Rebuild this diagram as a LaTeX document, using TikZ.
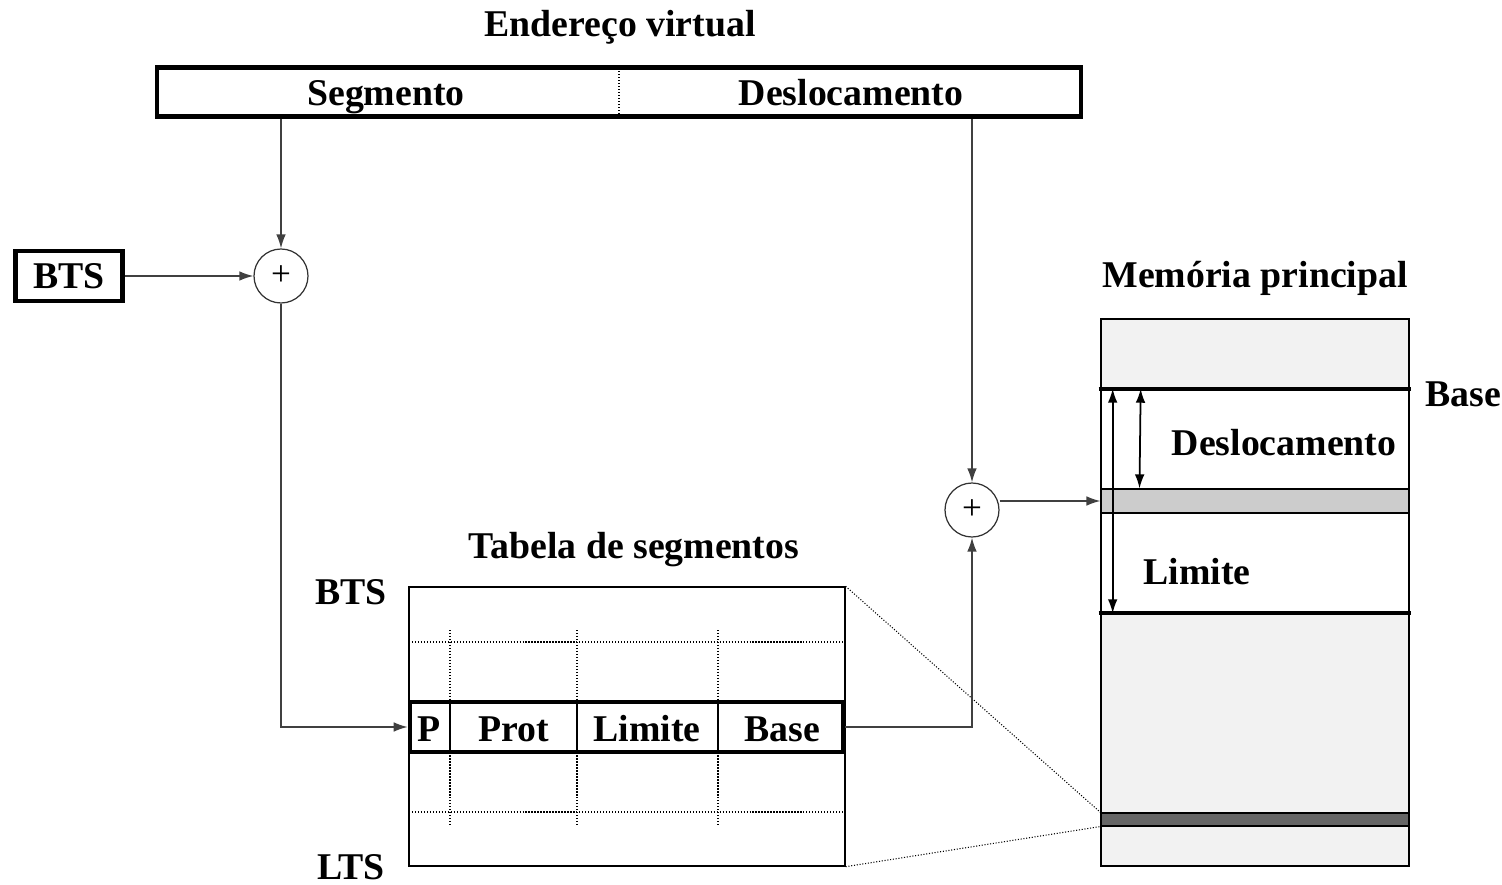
\documentclass[tikz,border=0pt]{standalone}
\usepackage{fontspec}
\setmainfont{Liberation Serif}
\usetikzlibrary{positioning,arrows.meta}
\begin{document}
\begin{tikzpicture}[x=0.02cm,y=-0.02cm,>={Latex[length=8pt,width=5.5pt]},
    lbl/.style={font=\bfseries\fontsize{21.5}{25}\selectfont, inner sep=0pt},
    thickbox/.style={draw, line width=2.6pt},
    adder/.style={draw=black!80, circle, line width=0.7pt, minimum size=1.08cm, inner sep=0pt, font=\fontsize{20}{20}\selectfont},
    link/.style={->, draw=black!75, line width=0.9pt},
    griddot/.style={densely dotted, line width=0.7pt}]
            \useasboundingbox (0,0) rectangle (1502,885);

            % virtual address
            \node[lbl, anchor=base] (vtitle) at (620,37) {Endereço virtual};
            \node[thickbox, minimum width=18.48cm, minimum height=0.98cm] (va) at (619,92) {};
            \draw[griddot] (va.north) -- (va.south);
            \node[lbl, anchor=base] (seg) at (386,106) {Segmento};
            \node[lbl, anchor=base] (off) at (851,106) {Deslocamento};

            % adders
            \node[thickbox, lbl, minimum width=2.14cm, minimum height=1cm] (bts) at (69,276) {BTS};
            \node[adder] (plus1) at (281,276) {+};
            \node[adder] (plus2) at (972,510) {+};

            % segment table
            \node[lbl, anchor=base] (ttitle) at (634,558) {Tabela de segmentos};
            \node[draw, line width=0.8pt, minimum width=8.72cm, minimum height=5.58cm] (tab) at (627,726.5) {};
            \node[lbl, anchor=base] (tbts) at (351,604) {BTS};
            \node[lbl, anchor=base] (tlts) at (351,879) {LTS};
            \foreach \y in {642,812}
                \draw[griddot] (409,\y) -- (845,\y);
            \foreach \x in {450,577,718}
                \draw[griddot] (\x,630) -- (\x,825);

            \node[thickbox, fill=white, minimum width=8.66cm, minimum height=1cm] (row) at (626.5,727) {};
            \foreach \x in {450,577,718}
                \draw[line width=1.4pt] (\x,702) -- (\x,752);
            \node[lbl, anchor=base] (pcell) at (429,741) {P};
            \node[lbl, anchor=base] (prot) at (514,741) {Prot};
            \node[lbl, anchor=base] (lim) at (647,741) {Limite};
            \node[lbl, anchor=base] (base) at (782,741) {Base};

            % main memory
            \node[lbl, anchor=base] (mtitle) at (1255,288) {Memória principal};
            \node[draw, line width=0.8pt, fill=black!5, minimum width=6.16cm, minimum height=10.94cm] (mem) at (1255,592.5) {};
            \node[fill=white, inner sep=0pt, minimum width=6.12cm, minimum height=4.48cm] (sarea) at (1255,501) {};
            \node[draw, line width=0.6pt, fill=black!20, inner sep=0pt, minimum width=6.16cm, minimum height=0.48cm] (dband) at (1255,501) {};
            \node[draw, line width=0.6pt, fill=black!60, inner sep=0pt, minimum width=6.16cm, minimum height=0.26cm] (lband) at (1255,819.5) {};
            \draw[line width=2.4pt] ([xshift=-0.06cm]sarea.north west) -- ([xshift=0.06cm]sarea.north east);
            \draw[line width=2.4pt] ([xshift=-0.06cm]sarea.south west) -- ([xshift=0.06cm]sarea.south east);
            \draw[<->, line width=1pt] ([xshift=0.22cm]sarea.north west) -- ([xshift=0.22cm]sarea.south west);
            \draw[<->, line width=1pt] ([xshift=0.78cm]sarea.north west) -- ([xshift=0.78cm]dband.north west);
            \node[lbl, anchor=base west] (mbase) at (1425,406) {Base};
            \node[lbl, anchor=base] (moff) at (1284,456) {Deslocamento};
            \node[lbl, anchor=base] (mlim) at (1197,584) {Limite};

            \draw[griddot, line width=0.6pt] (tab.north east) -- (lband.north west);
            \draw[griddot, line width=0.6pt] (tab.south east) -- (lband.south west);

            % connectors
            \draw[link] (plus1 |- va.south) -- (plus1.north);
            \draw[link] (bts.east) -- (plus1.west);
            \draw[link] (plus1.south) |- (row.west);
            \draw[link] (plus2 |- va.south) -- (plus2.north);
            \draw[link] (row.east) -| (plus2.south);
            \draw[link] (plus2.east |- dband) -- (dband.west);
          \end{tikzpicture}
\end{document}
